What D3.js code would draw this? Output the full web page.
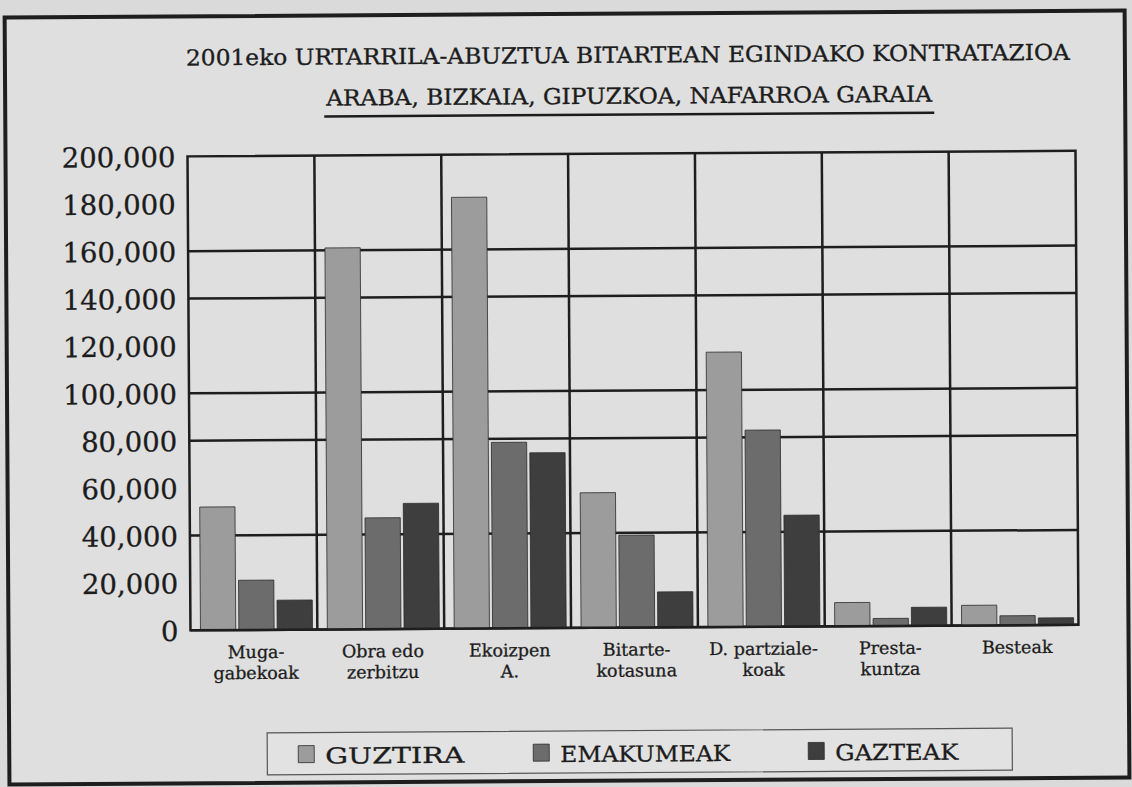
<!DOCTYPE html>
<html>
<head>
<meta charset="utf-8">
<script src="https://cdn.jsdelivr.net/npm/d3@7"></script>
<style>
  body { margin: 0; background: #dadada; }
  svg { display: block; }
</style>
</head>
<body>
<div id="chart"></div>
<script>
// data
const categories = [
  ["Muga-", "gabekoak"],
  ["Obra edo", "zerbitzu"],
  ["Ekoizpen", "A."],
  ["Bitarte-", "kotasuna"],
  ["D. partziale-", "koak"],
  ["Presta-", "kuntza"],
  ["Besteak"]
];
const seriesNames = ["GUZTIRA", "EMAKUMEAK", "GAZTEAK"];
const guztira   = [52000, 161000, 182000, 57000, 116000, 10000, 8500];
const emakumeak = [21000,  47000,  78500, 39000,  83000,  3200, 4000];
const gazteak   = [12500,  53000,  74000, 15000,  47000,  7800, 3000];
const yTicks = [0, 20000, 40000, 60000, 80000, 100000, 120000, 140000, 160000, 180000, 200000];
const gridValues = [40000, 80000, 100000, 140000, 160000];

const W = 1132, H = 787;
const colors = ["#9c9c9c", "#6c6c6c", "#3e3e3e"];
const ink = "#1c1c1c";
const serif = "'DejaVu Serif', 'Liberation Serif', serif";

const svg = d3.select("#chart").append("svg")
  .attr("width", W).attr("height", H);

svg.append("rect").attr("width", W).attr("height", H).attr("fill", "#dadada");

// the scan is slightly tilted
const page = svg.append("g").attr("transform", "rotate(-0.36,566,393)");

// outer frame
page.append("rect")
  .attr("x", 7).attr("y", 14).attr("width", 1120).attr("height", 767)
  .attr("fill", "#dfdfdf").attr("stroke", "#1e1e1e").attr("stroke-width", 4);

// titles
page.append("text")
  .attr("x", 630).attr("y", 63)
  .attr("text-anchor", "middle")
  .attr("textLength", 884).attr("lengthAdjust", "spacingAndGlyphs")
  .style("font-family", serif).style("font-size", "22px").style("fill", ink)
  .style("stroke", ink).style("stroke-width", 0.35)
  .text("2001eko URTARRILA-ABUZTUA BITARTEAN EGINDAKO KONTRATAZIOA");

page.append("text")
  .attr("x", 631).attr("y", 104)
  .attr("text-anchor", "middle")
  .attr("textLength", 606).attr("lengthAdjust", "spacingAndGlyphs")
  .style("font-family", serif).style("font-size", "22px").style("fill", ink)
  .style("stroke", ink).style("stroke-width", 0.35)
  .text("ARABA, BIZKAIA, GIPUZKOA, NAFARROA GARAIA");

page.append("line")
  .attr("x1", 326).attr("x2", 936).attr("y1", 115).attr("y2", 115)
  .attr("stroke", ink).attr("stroke-width", 2.5);

// scales
const xScale = d3.scaleBand().domain(d3.range(categories.length)).range([189, 1077]);
const xSub = d3.scaleBand().domain(seriesNames).range([10, 122]).paddingInner(0.08);
const yScale = d3.scaleLinear().domain([0, 200000]).range([628, 154]);

const g = page.append("g");

// plot frame + grid
g.append("rect")
  .attr("x", 189).attr("y", yScale(200000))
  .attr("width", 1077 - 189).attr("height", yScale(0) - yScale(200000))
  .attr("fill", "none").attr("stroke", "#1e1e1e").attr("stroke-width", 2.5);

g.selectAll(".hgrid")
  .data(gridValues)
  .enter()
  .append("line")
  .attr("class", "hgrid")
  .attr("x1", 189).attr("x2", 1077)
  .attr("y1", function (d) { return yScale(d); })
  .attr("y2", function (d) { return yScale(d); })
  .attr("stroke", "#1e1e1e").attr("stroke-width", 2.5);

g.selectAll(".vgrid")
  .data(d3.range(1, categories.length))
  .enter()
  .append("line")
  .attr("class", "vgrid")
  .attr("x1", function (d) { return xScale(d); })
  .attr("x2", function (d) { return xScale(d); })
  .attr("y1", yScale(200000)).attr("y2", yScale(0))
  .attr("stroke", "#1e1e1e").attr("stroke-width", 2.5);

// bars
const series = [guztira, emakumeak, gazteak];
seriesNames.forEach(function (name, si) {
  g.selectAll(".bar-" + si)
    .data(series[si])
    .enter()
    .append("rect")
    .attr("class", "bar-" + si)
    .attr("x", function (d, i) { return xScale(i) + xSub(name); })
    .attr("y", function (d) { return yScale(d); })
    .attr("width", xSub.bandwidth())
    .attr("height", function (d) { return yScale(0) - yScale(d); })
    .attr("fill", colors[si])
    .attr("stroke", "#2a2a2a").attr("stroke-width", 0.8);
});

// baseline on top
g.append("line")
  .attr("x1", 189).attr("x2", 1077)
  .attr("y1", yScale(0)).attr("y2", yScale(0))
  .attr("stroke", "#1e1e1e").attr("stroke-width", 2.5);

// y axis labels
const yAxis = g.append("g")
  .attr("transform", "translate(177,0)")
  .call(d3.axisLeft(yScale).tickValues(yTicks).tickFormat(d3.format(",")).tickSize(0).tickPadding(0));
yAxis.select(".domain").remove();
yAxis.selectAll("text")
  .style("font-family", serif).style("font-size", "27.5px").style("fill", ink)
  .style("stroke", ink).style("stroke-width", 0.3)
  .attr("dy", "0.36em");

// category labels
const catLabels = g.selectAll(".cat")
  .data(categories)
  .enter()
  .append("text")
  .attr("class", "cat")
  .attr("text-anchor", "middle")
  .attr("x", function (d, i) { return xScale(i) + xScale.bandwidth() / 2 + 2; })
  .attr("y", 656)
  .style("font-family", serif).style("font-size", "17.5px").style("fill", ink)
  .style("stroke", ink).style("stroke-width", 0.3);
catLabels.selectAll("tspan")
  .data(function (d) { return d; })
  .enter()
  .append("tspan")
  .attr("x", function () { return d3.select(this.parentNode).attr("x"); })
  .attr("dy", function (d, j) { return j === 0 ? 0 : 21; })
  .text(function (d) { return d; });

// legend
page.append("rect")
  .attr("x", 265).attr("y", 731).attr("width", 745).attr("height", 42)
  .attr("fill", "#e2e2e2").attr("stroke", "#555").attr("stroke-width", 1.2);

const legendX = [296, 531, 806];
const legendW = [139, 170, 123];
seriesNames.forEach(function (name, si) {
  page.append("rect")
    .attr("x", legendX[si]).attr("y", 744).attr("width", 16).attr("height", 17)
    .attr("fill", colors[si]).attr("stroke", "#2a2a2a").attr("stroke-width", 0.8);
  page.append("text")
    .attr("x", legendX[si] + 27).attr("y", 762)
    .attr("textLength", legendW[si]).attr("lengthAdjust", "spacingAndGlyphs")
    .style("font-family", serif).style("font-size", "22px").style("fill", ink)
    .style("stroke", ink).style("stroke-width", 0.3)
    .text(name);
});
</script>
</body>
</html>
